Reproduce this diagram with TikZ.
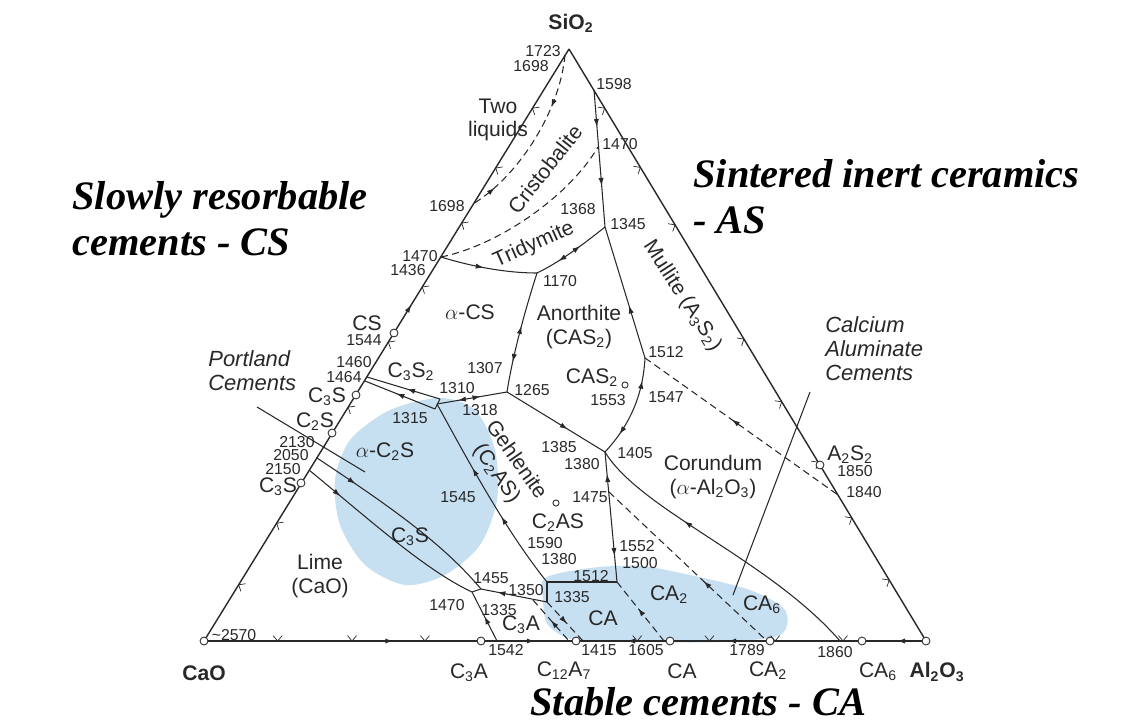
\documentclass[tikz,border=0pt]{standalone}
\usepackage{fontspec}
\setmainfont{Liberation Sans}
\newfontfamily\capfont{Liberation Serif}
\usepackage{tikz}
\usetikzlibrary{arrows.meta,calc,decorations.markings}

\definecolor{blobblue}{RGB}{198,224,242}
\definecolor{ink}{RGB}{40,40,40}
\newcommand{\sbs}[1]{\textsubscript{#1}}
\newcommand{\isotick}[2]{\draw[tickmark] #1 ++(#2+40:4pt) -- #1 -- ++(#2-40:4pt);}

\begin{document}
\begin{tikzpicture}[x=0.02cm, y=-0.02cm,
    side/.style={line width=0.8pt, draw=ink},
    bnd/.style={line width=0.6pt, draw=ink},
    dsh/.style={line width=0.6pt, draw=ink, dash pattern=on 4pt off 2.5pt},
    tickmark/.style={line width=0.4pt, draw=ink},
    fwd/.style={postaction={decorate, decoration={markings, mark=at position #1 with {\arrow[ink]{Latex[length=4.5pt,width=3pt]}}}}},
    bwd/.style={postaction={decorate, decoration={markings, mark=at position #1 with {\arrowreversed[ink]{Latex[length=4.5pt,width=3pt]}}}}},
    cmp/.style={circle, draw=ink, fill=white, line width=0.5pt, inner sep=0pt, minimum size=4.5pt},
    cmps/.style={cmp, minimum size=3.5pt},
    num/.style={font=\fontsize{9}{10}\selectfont, text=ink, inner sep=0pt},
    lbl/.style={font=\fontsize{12}{13.5}\selectfont, text=ink, inner sep=0pt, align=center},
    oxide/.style={font=\bfseries\fontsize{12}{13}\selectfont, text=ink, inner sep=0pt},
    remark/.style={font=\itshape\fontsize{12.5}{13.6}\selectfont, text=ink, inner sep=0pt, align=left},
    headline/.style={font=\capfont\bfseries\itshape\fontsize{23}{26}\selectfont, inner sep=0pt, align=left},
]
    \useasboundingbox (0,0) rectangle (1143,723);

    % Shaded areas
    \fill[blobblue] plot[smooth cycle] coordinates {(440,398) (475,410) (495,450) (497,500) (480,545) (445,575) (405,585) (365,565) (340,525) (335,480) (350,440) (390,410)};
    \fill[blobblue] plot[smooth cycle] coordinates {(545,578) (590,568) (640,566) (690,575) (750,590) (785,610) (780,635) (720,642) (640,642) (575,640) (548,625) (543,600)};

    % Corners
    \coordinate (S) at (569,49);
    \coordinate (C) at (204,641);
    \coordinate (A) at (926,641);

    % Points on the sides
    \coordinate (l1698) at (565,55);
    \coordinate (l1698b) at (473,204);
    \coordinate (l1470) at (441,257);
    \coordinate (l1464) at (367,377);
    \coordinate (l1460) at (365,381);
    \coordinate (l2050) at (317,458);
    \coordinate (l2150) at (309,470);
    \coordinate (r1598) at (594,90);
    \coordinate (r1840) at (838,495);
    \coordinate (b1542) at (497,641);
    \coordinate (b1400) at (569,641);
    \coordinate (b1415) at (583,641);
    \coordinate (b1605) at (664,641);
    \coordinate (b1789) at (767,641);
    \coordinate (b1860) at (840,641);

    % Invariant points
    \coordinate (p1470t) at (598,147);
    \coordinate (p1345) at (605,227);
    \coordinate (p1170) at (537,273);
    \coordinate (p1265) at (507,392);
    \coordinate (p1315) at (437,404);
    \coordinate (s1) at (440,399);
    \coordinate (s2) at (435,409);
    \coordinate (p1512) at (645,358);
    \coordinate (p1405) at (605,452);
    \coordinate (p1475) at (609,492);
    \coordinate (p1512b) at (617,582);
    \coordinate (p1380) at (547,582);
    \coordinate (p1335) at (547,602);
    \coordinate (p1350) at (533,600);
    \coordinate (p1455) at (481,589);
    \coordinate (p1470b) at (472,592);
    \coordinate (pc1) at (257,407);
    \coordinate (pc2) at (365,472);
    \coordinate (ca1) at (733,595);
    \coordinate (ca2) at (810,392);

    % Sides
    \draw[side, fwd=0.568] (C) -- (S);
    \draw[side] (S) -- (A);
    \draw[side, fwd=0.262, fwd=0.458, bwd=0.586, bwd=0.726, bwd=0.96] (C) -- (A);
    \foreach \t in {0.095,0.199,0.395,0.505,0.598,0.706,0.799,0.900}
        {\isotick{($(C)!\t!(S)$)}{-31.7}}
    \foreach \t in {0.1,0.2,0.297,0.49,0.596,0.698,0.792,0.897}
        {\isotick{($(S)!\t!(A)$)}{211.1}}
    \foreach \t in {0.102,0.205,0.306,0.6,0.7,0.791,0.885}
        {\isotick{($(C)!\t!(A)$)}{90}}

    % Boundary curves
    \draw[dsh, fwd=0.3, bwd=0.85] (l1698) .. controls (560,110) and (520,175) .. (l1698b);
    \draw[dsh] (l1470) .. controls (500,245) and (570,195) .. (p1470t);
    \draw[bnd, fwd=0.27, fwd=0.7] (r1598) -- (p1345);
    \draw[bnd, fwd=0.45] (l1470) .. controls (470,266) and (505,273) .. (p1170);
    \draw[bnd, bwd=0.3, fwd=0.62] (p1170) .. controls (560,262) and (585,243) .. (p1345);
    \draw[bnd, bwd=0.6] (p1345) -- (p1512);
    \draw[bnd, bwd=0.45, fwd=0.75] (p1170) .. controls (522,320) and (512,360) .. (p1265);
    \draw[bnd, bwd=0.55] (l1464) -- (s1);
    \draw[bnd, bwd=0.45] (l1460) -- (s2);
    \draw[bnd] (s1) -- (s2);
    \draw[bnd, bwd=0.3, fwd=0.62] (p1315) -- (p1265);
    \draw[bnd, fwd=0.62] (p1265) -- (p1405);
    \draw[bnd, bwd=0.22, fwd=0.78] (p1512) .. controls (643,395) and (630,425) .. (p1405);
    \draw[bnd, bwd=0.17, fwd=0.8] (p1405) -- (p1512b);
    \draw[bnd] (p1380) -- (p1512b);
    \draw[bnd] (p1380) -- (p1335);
    \draw[bnd, bwd=0.35, bwd=0.62] (p1315) .. controls (465,455) and (505,530) .. (p1380);
    \draw[bnd, bwd=0.25] (p1455) -- (p1335);
    \draw[bnd] (p1470b) -- (p1455);
    \draw[bnd, fwd=0.22] (l2050) .. controls (380,500) and (440,540) .. (p1455);
    \draw[bnd, fwd=0.2] (l2150) .. controls (370,520) and (425,570) .. (p1470b);
    \draw[bnd, bwd=0.5] (p1470b) -- (b1542);
    \draw[dsh, bwd=0.5] (p1350) -- (b1400);
    \draw[dsh, fwd=0.55] (p1335) -- (b1415);
    \draw[dsh, bwd=0.45] (p1512b) -- (b1605);
    \draw[dsh, bwd=0.6] (p1475) -- (b1789);
    \draw[bnd, bwd=0.35] (p1405) .. controls (640,510) and (770,560) .. (b1860);
    \draw[dsh, bwd=0.45] (p1512) -- (r1840);

    % Pointers
    \draw[bnd] (pc1) -- (pc2);
    \draw[bnd] (ca1) -- (ca2);

    % Compounds
    \node[cmp] (cCaO) at (C) {};
    \node[cmp] (cAl) at (A) {};
    \node[cmp] (cCS) at (394,333) {};
    \node[cmp] (cC3S) at (356,395) {};
    \node[cmp] (cC2S) at (332,433) {};
    \node[cmp] (cC3Sb) at (301,483) {};
    \node[cmp] (cC3A) at (481,641) {};
    \node[cmp] (cC12A7) at (576,641) {};
    \node[cmp] (cCA) at (670,641) {};
    \node[cmp] (cCA2) at (770,641) {};
    \node[cmp] (cCA6) at (862,641) {};
    \node[cmp] (cA2S2) at (820,465) {};
    \node[cmps] (cCAS2) at (625,385) {};
    \node[cmps] (cC2AS) at (556,503) {};

    % Oxides
    \node[oxide] (nSi) at (571,23) {SiO\sbs{2}};
    \node[oxide] (nCaO) at (204,673) {CaO};
    \node[oxide] (nAl) at (937,672) {Al\sbs{2}O\sbs{3}};

    % Fields
    \node[lbl] (fTwo) at (498,120) {Two\\liquids};
    \node[lbl, rotate=51.6] (fCris) at (545,169) {Cristobalite};
    \node[lbl, rotate=24] (fTrid) at (534,245) {Tridymite};
    \node[lbl, rotate=-57] (fMul) at (682,296) {Mullite (A\sbs{3}S\sbs{2})};
    \node[lbl] (fCS) at (470,312) {$\alpha$-CS};
    \node[lbl] (fAn) at (579,327) {Anorthite\\(CAS\sbs{2})};
    \node[lbl] (fCAS2) at (592,378) {CAS\sbs{2}};
    \node[lbl] (fC3S2) at (411,372) {C\sbs{3}S\sbs{2}};
    \node[lbl] (fC2S) at (385,452) {$\alpha$-C\sbs{2}S};
    \node[lbl, rotate=-55] (fGeh) at (506,467) {Gehlenite\\(C\sbs{2}AS)};
    \node[lbl] (fCor) at (713,477) {Corundum\\($\alpha$-Al\sbs{2}O\sbs{3})};
    \node[lbl] (fC2AS) at (558,523) {C\sbs{2}AS};
    \node[lbl] (fC3Si) at (410,537) {C\sbs{3}S};
    \node[lbl] (fLime) at (320,576) {Lime\\(CaO)};
    \node[lbl] (fC3Ai) at (521,625) {C\sbs{3}A};
    \node[lbl] (fCAi) at (603,618) {CA};
    \node[lbl] (fCA2i) at (669,595) {CA\sbs{2}};
    \node[lbl] (fCA6i) at (762,605) {CA\sbs{6}};

    % Compound names on the sides
    \node[lbl] (nCS) at (367,323) {CS};
    \node[lbl] (nC3S) at (327,397) {C\sbs{3}S};
    \node[lbl] (nC2S) at (315,422) {C\sbs{2}S};
    \node[lbl] (nC3Sb) at (278,487) {C\sbs{3}S};
    \node[lbl] (nC3A) at (469,673) {C\sbs{3}A};
    \node[lbl] (nC12A7) at (564,671) {C\sbs{12}A\sbs{7}};
    \node[lbl] (nCA) at (682,671) {CA};
    \node[lbl] (nCA2) at (768,671) {CA\sbs{2}};
    \node[lbl] (nCA6) at (878,672) {CA\sbs{6}};
    \node[lbl] (nA2S2) at (850,455) {A\sbs{2}S\sbs{2}};

    % Temperatures
    \node[num] at (543,51) {1723};
    \node[num] at (531,66) {1698};
    \node[num] at (614,84) {1598};
    \node[num] at (620,144) {1470};
    \node[num] at (447,206) {1698};
    \node[num] at (420,256) {1470};
    \node[num] at (408,270) {1436};
    \node[num] at (578,209) {1368};
    \node[num] at (628,224) {1345};
    \node[num] at (560,281) {1170};
    \node[num] at (666,352) {1512};
    \node[num] at (364,340) {1544};
    \node[num] at (354,362) {1460};
    \node[num] at (344,377) {1464};
    \node[num] at (297,442) {2130};
    \node[num] at (291,455) {2050};
    \node[num] at (283,469) {2150};
    \node[num] at (410,418) {1315};
    \node[num] at (457,388) {1310};
    \node[num] at (480,410) {1318};
    \node[num] at (485,368) {1307};
    \node[num] at (532,390) {1265};
    \node[num] at (608,400) {1553};
    \node[num] at (666,397) {1547};
    \node[num] at (559,447) {1385};
    \node[num] at (582,464) {1380};
    \node[num] at (635,453) {1405};
    \node[num] at (458,497) {1545};
    \node[num] at (590,497) {1475};
    \node[num] at (545,543) {1590};
    \node[num] at (559,559) {1380};
    \node[num] at (637,546) {1552};
    \node[num] at (640,563) {1500};
    \node[num] at (591,576) {1512};
    \node[num] at (572,597) {1335};
    \node[num] at (491,578) {1455};
    \node[num] at (526,590) {1350};
    \node[num] at (447,605) {1470};
    \node[num] at (499,610) {1335};
    \node[num] at (234,635) {\textasciitilde2570};
    \node[num] at (506,650) {1542};
    \node[num] at (599,650) {1415};
    \node[num] at (646,650) {1605};
    \node[num] at (747,650) {1789};
    \node[num] at (835,652) {1860};
    \node[num] at (855,471) {1850};
    \node[num] at (864,492) {1840};

    % Cement notes
    \node[remark, anchor=west] (rPort) at (208,371) {Portland\\Cements};
    \node[remark, anchor=west] (rCal) at (825,349) {Calcium\\Aluminate\\Cements};
    \node[headline, anchor=north west] (hCS) at (72,181) {Slowly resorbable\\cements - CS};
    \node[headline, anchor=north west] (hAS) at (693,159) {Sintered inert ceramics\\- AS};
    \node[headline, anchor=north west] (hCA) at (530,687) {Stable cements - CA};
\end{tikzpicture}
\end{document}
